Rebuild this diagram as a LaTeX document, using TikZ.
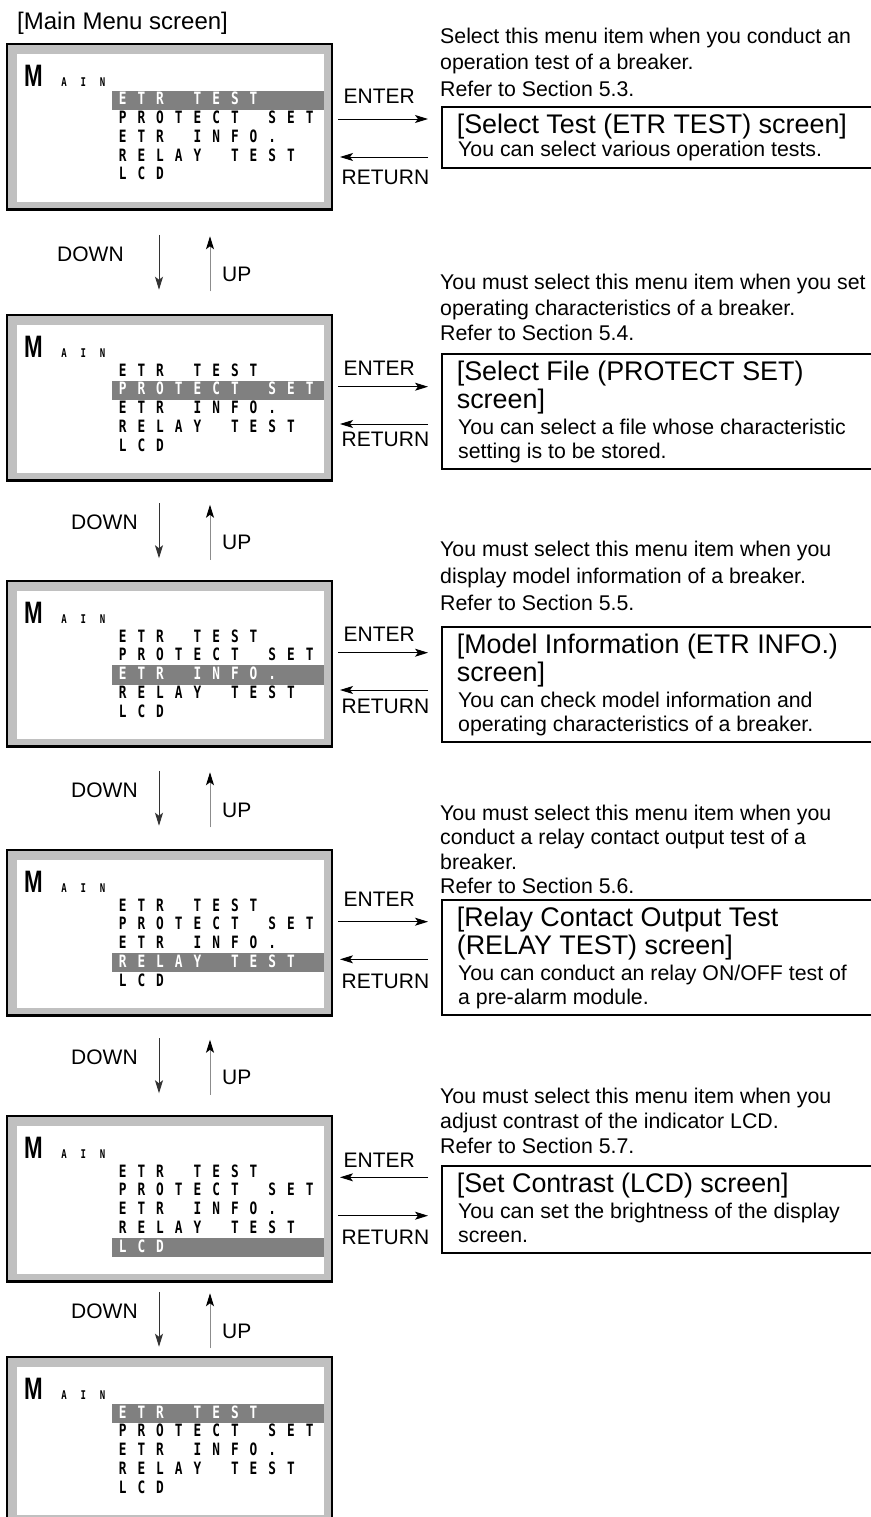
\documentclass[tikz,border=0pt]{standalone}
\usepackage{fontspec}
\setmainfont{Liberation Sans}
\newfontfamily\lcdfont{DejaVu Sans Mono}
\usetikzlibrary{arrows.meta}
\definecolor{framegray}{RGB}{192,192,192}
\definecolor{hlgray}{RGB}{128,128,128}
\newlength\lcdp
\def\lcdloop#1{\ifx#1\relax\else\makebox[\lcdp][c]{\ifx#1_\else\scalebox{0.75}[1]{#1}\fi}\expandafter\lcdloop\fi}
\newcommand\lcdstr[2]{\setlength\lcdp{#1}\expandafter\lcdloop#2\relax}
\tikzset{
  frame/.style={draw=black, line width=2.3pt, fill=framegray, anchor=north west,
    minimum width=324.7pt, minimum height=165.4pt, inner sep=0pt, outer sep=0pt},
  lcdwhite/.style={fill=white, anchor=north west, minimum width=307pt,
    minimum height=147.7pt, inner sep=0pt},
  hlbar/.style={fill=hlgray, anchor=north west, minimum width=212pt,
    minimum height=19.3pt, inner sep=0pt},
  bigm/.style={font=\fontsize{31}{32}\selectfont\bfseries, anchor=base west, inner sep=0pt},
  smalllcd/.style={font=\lcdfont\fontsize{12}{13}\selectfont\bfseries, anchor=base west, inner sep=0pt},
  lcdtxt/.style={font=\lcdfont\fontsize{17}{18}\selectfont\bfseries, anchor=base west, inner sep=0pt},
  menu/.style={font=\fontsize{24}{28}\selectfont, anchor=base west, inner sep=0pt},
  desc/.style={font=\fontsize{21.3}{25}\selectfont, anchor=base west, inner sep=0pt},
  ttl/.style={font=\fontsize{26.9}{29}\selectfont, anchor=base west, inner sep=0pt},
  lbl/.style={font=\fontsize{21}{25}\selectfont, anchor=base west, inner sep=0pt},
  infob/.style={draw=black, line width=1.7pt, anchor=north west, minimum width=440pt, inner sep=0pt},
  arr/.style={-{Stealth[length=13pt,width=8pt,inset=3pt]}, line width=0.9pt, draw=black},
  downarr/.style={-{Stealth[length=13pt,width=8pt,inset=3pt]}, line width=0.9pt, draw=black!80},
  uparr/.style={-{Stealth[length=13pt,width=8pt,inset=3pt,color=black]}, line width=0.9pt, draw=black!45},
}
\newcommand\lcdscreen[3]{%
  \node[frame] (#1) at (7.15,#2+1.15) {};
  \node[lcdwhite] (#1w) at (17,#2+11) {};
  \node[hlbar] (#1h) at (112,#2+47.7+18.7*#3-18.7) {};
  \node[bigm] (#1m) at (24,#2+43.7) {\scalebox{0.72}[1]{M}};
  \node[smalllcd] (#1a) at (54.4,#2+43.7) {\lcdstr{19.2pt}{AIN}};
  \foreach \t [count=\i] in {ETR_TEST,PROTECT_SET,ETR_INFO.,RELAY_TEST,LCD}{
    \ifnum\i=#3 \def\lcdcol{white}\else\def\lcdcol{black}\fi
    \node[lcdtxt, text=\lcdcol] (#1r\i) at (113.1,#2+62+18.75*\i-18.75) {\lcdstr{18.7pt}{\t}};
  }
}
\newcommand\txtlines[6]{%
  \foreach \txtitem [count=\i] in {#6} {\node[#2] (#1\i) at (#3,#4+#5*\i-#5) {\txtitem};}
}
\newcommand\updown[3]{%
  \coordinate (#1da) at (159,#2-27.5); \coordinate (#1db) at (159,#2+27.5);
  \draw[downarr] (#1da) -- (#1db);
  \coordinate (#1ua) at (210,#2+29); \coordinate (#1ub) at (210,#2-26);
  \draw[uparr] (#1ua) -- (#1ub);
  \node[lbl] (#1down) at (#3,#2-1) {DOWN};
  \node[lbl] (#1up) at (222,#2+19) {UP};
}
\begin{document}
\begin{tikzpicture}[x=1pt,y=-1pt]
\useasboundingbox (0,0) rectangle (870,1517);
\fill[white] (0,0) rectangle (870,1517);

\node[menu] (title) at (17,29.3) {[Main Menu screen]};

\lcdscreen{s1}{43}{1}
\lcdscreen{s2}{314}{2}
\lcdscreen{s3}{580}{3}
\lcdscreen{s4}{849}{4}
\lcdscreen{s5}{1115}{5}
\lcdscreen{s6}{1356}{1}

\updown{g1}{262.25}{57}
\updown{g2}{530.75}{71}
\updown{g3}{798.25}{71}
\updown{g4}{1065.75}{71}
\updown{g5}{1319.25}{71}

% screen 1 navigation
\node[lbl] (s1enter) at (343.5,103.3) {ENTER};
\node[lbl] (s1return) at (341.5,184.3) {RETURN};
\coordinate (s1ea) at (338,119); \coordinate (s1eb) at (428,119);
\draw[arr] (s1ea) -- (s1eb);
\coordinate (s1ra) at (428,157); \coordinate (s1rb) at (340,157);
\draw[arr] (s1ra) -- (s1rb);
% screen 2
\node[lbl] (s2enter) at (343.5,375) {ENTER};
\node[lbl] (s2return) at (341.5,446.7) {RETURN};
\coordinate (s2ea) at (338,386.7); \coordinate (s2eb) at (428,386.7);
\draw[arr] (s2ea) -- (s2eb);
\coordinate (s2ra) at (428,424); \coordinate (s2rb) at (340,424);
\draw[arr] (s2ra) -- (s2rb);
% screen 3
\node[lbl] (s3enter) at (343.5,641) {ENTER};
\node[lbl] (s3return) at (341.5,713) {RETURN};
\coordinate (s3ea) at (338,652.7); \coordinate (s3eb) at (428,652.7);
\draw[arr] (s3ea) -- (s3eb);
\coordinate (s3ra) at (428,690); \coordinate (s3rb) at (340,690);
\draw[arr] (s3ra) -- (s3rb);
% screen 4
\node[lbl] (s4enter) at (343.5,906) {ENTER};
\node[lbl] (s4return) at (341.5,988) {RETURN};
\coordinate (s4ea) at (338,921.7); \coordinate (s4eb) at (428,921.7);
\draw[arr] (s4ea) -- (s4eb);
\coordinate (s4ra) at (428,959.3); \coordinate (s4rb) at (340,959.3);
\draw[arr] (s4ra) -- (s4rb);
% screen 5 (arrows as printed)
\node[lbl] (s5enter) at (343.5,1167) {ENTER};
\node[lbl] (s5return) at (341.5,1244) {RETURN};
\coordinate (s5ea) at (428,1177.3); \coordinate (s5eb) at (340,1177.3);
\draw[arr] (s5ea) -- (s5eb);
\coordinate (s5ra) at (338,1215.7); \coordinate (s5rb) at (428,1215.7);
\draw[arr] (s5ra) -- (s5rb);

% descriptions
\txtlines{d1}{desc}{440}{43.3}{26.7}{Select this menu item when you conduct an,operation test of a breaker.,Refer to Section 5.3.}
\txtlines{d2}{desc}{440}{289.3}{25.7}{You must select this menu item when you set,operating characteristics of a breaker.,Refer to Section 5.4.}
\txtlines{d3}{desc}{440}{556.7}{26.7}{You must select this menu item when you,display model information of a breaker.,Refer to Section 5.5.}
\txtlines{d4}{desc}{440}{820}{24.5}{You must select this menu item when you,conduct a relay contact output test of a,breaker.,Refer to Section 5.6.}
\txtlines{d5}{desc}{440}{1103}{25}{You must select this menu item when you,adjust contrast of the indicator LCD.,Refer to Section 5.7.}

% info boxes
\node[infob, minimum height=61pt] (b1) at (441,106) {};
\txtlines{b1t}{ttl}{456.6}{133.3}{28}{[Select Test (ETR TEST) screen]}
\txtlines{b1s}{desc}{458}{157}{24}{You can select various operation tests.}

\node[infob, minimum height=114.7pt] (b2) at (441,353.3) {};
\txtlines{b2t}{ttl}{456.6}{380.6}{28}{[Select File (PROTECT SET),screen]}
\txtlines{b2s}{desc}{458}{434}{24}{You can select a file whose characteristic,setting is to be stored.}

\node[infob, minimum height=115pt] (b3) at (441,626) {};
\txtlines{b3t}{ttl}{456.6}{653.3}{28}{[Model Information (ETR INFO.),screen]}
\txtlines{b3s}{desc}{458}{707}{24}{You can check model information and,operating characteristics of a breaker.}

\node[infob, minimum height=114.7pt] (b4) at (441,899.3) {};
\txtlines{b4t}{ttl}{456.6}{926.6}{28}{[Relay Contact Output Test,(RELAY TEST) screen]}
\txtlines{b4s}{desc}{458}{980}{24}{You can conduct an relay ON/OFF test of,a pre-alarm module.}

\node[infob, minimum height=87pt] (b5) at (441,1165) {};
\txtlines{b5t}{ttl}{456.6}{1192.3}{28}{[Set Contrast (LCD) screen]}
\txtlines{b5s}{desc}{458}{1218}{24}{You can set the brightness of the display,screen.}
\end{tikzpicture}
\end{document}
